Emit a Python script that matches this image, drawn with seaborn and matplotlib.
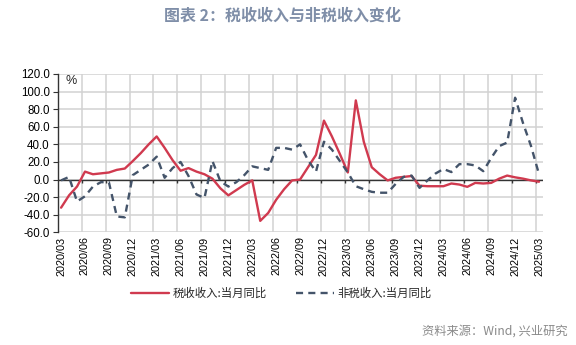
import numpy as np
import pandas as pd
import matplotlib
matplotlib.use("Agg")
import matplotlib.pyplot as plt
import seaborn as sns

# ---------------- data ----------------
months = [p.strftime("%Y/%m") for p in pd.period_range("2020-03", "2025-03", freq="M")]

tax_yoy = [-32, -18, -8, 9, 6, 7, 8, 11, 12.5, 21, 30, 40,
           49, 36, 22, 10, 13, 9, 6, 1, -10, -18, -12, -6,
           -1, -47, -38, -23, -11, -1, 0, 14, 28, 67, 49, 29,
           8, 90, 43, 14, 6, -1, 2, 3, 4, -7, -7.6, -7.6,
           -7.6, -4.5, -5.7, -8.3, -3.8, -4.5, -3.8, 1, 4.5, 2.5,
           1, -1, -2.5]

nontax_yoy = [-1, 3, -25, -19, -8, -3, -3, -42, -43, 5, 11, 17,
              26, 2, 13, 20, 4, -17, -21, 21, -2, -8, -3, 5,
              15, 13, 11, 36, 36, 34, 40, 22, 9, 43, 34, 21,
              8, -7.6, -11, -14, -15, -15, -5, 3, 4.5, -9.5, -1, 6.8,
              12, 8.5, 17.5, 17.5, 16, 9.5, 24.6, 38, 42, 93, 64,
              38, 6]

series_names = ["税收收入:当月同比", "非税收入:当月同比"]
title_text = "图表 2：税收收入与非税收入变化"
source_text = "资料来源：Wind, 兴业研究"
yticks = [-60, -40, -20, 0, 20, 40, 60, 80, 100, 120]

# ---------------- style ----------------
sns.set_theme(style="white")
plt.rcParams["font.family"] = ["Liberation Sans", "Noto Sans CJK SC", "DejaVu Sans"]

RED = "#d03a4f"
BLUE = "#44546a"

df = pd.DataFrame({
    "pos": np.tile(np.arange(len(months)), 2),
    "value": tax_yoy + nontax_yoy,
    "series": [series_names[0]] * len(months) + [series_names[1]] * len(months),
})

W, H = 576, 345
fig = plt.figure(figsize=(W / 100, H / 100), dpi=100)
L, R, T, B = 57.5, 543.0, 74.0, 232.3
ax = fig.add_axes([L / W, 1 - B / H, (R - L) / W, (B - T) / H])

sns.lineplot(data=df, x="pos", y="value", hue="series", style="series",
             palette={series_names[0]: RED, series_names[1]: BLUE},
             dashes={series_names[0]: "", series_names[1]: (3.0, 2.2)},
             linewidth=1.7, ax=ax, legend=True)

ax.set_xlim(-0.45, len(months) - 0.5)
ax.set_ylim(-60, 120)

# grid
grid_x = np.arange(0, len(months), 3) - 0.4
for gx in grid_x:
    ax.axvline(gx, color="#d2d2d2", lw=1.1, zorder=0)
for gy in yticks:
    ax.axhline(gy, color="#d2d2d2", lw=1.1, zorder=0)
ax.axhline(0, color="#333333", lw=1.0, zorder=1)
# small tick marks under the zero line
ax.vlines(grid_x[1:], -3.5, 0, color="#333333", lw=1.0, zorder=1)

ax.set_yticks(yticks)
ax.set_yticklabels([f"{v:.1f}" for v in yticks], fontsize=8.3, color="#000000")
ax.set_xticks(np.arange(0, len(months), 3))
ax.set_xticklabels(months[::3], rotation=90, fontsize=7.8, color="#000000")
ax.tick_params(axis="y", length=3.5, width=0.8, color="#333333", pad=2, direction="out", left=True)
ax.tick_params(axis="x", length=0, pad=3)
ax.set_xlabel("")
ax.set_ylabel("")
for s in ["top", "right", "bottom"]:
    ax.spines[s].set_visible(False)
ax.spines["left"].set_color("#333333")
ax.spines["left"].set_linewidth(1.0)

ax.text(0.029, 0.955, "%", transform=ax.transAxes, fontsize=9, ha="center", va="center")

# legend
handles, labels = ax.get_legend_handles_labels()
ax.get_legend().remove()
fig.legend(handles, labels, loc="center left", bbox_to_anchor=(121 / W, 1 - 293 / H),
           ncol=2, frameon=False, fontsize=8.2, handlelength=3.3, handletextpad=0.3,
           columnspacing=2.6, prop={"family": ["Noto Sans CJK SC"], "size": 8.2})

fig.text(282 / W, 1 - 16 / H, title_text, ha="center", va="center", fontsize=11.5,
         fontweight="bold", color="#7f8ea8", family=["Noto Sans CJK SC", "DejaVu Sans"])
fig.text(568 / W, 1 - 331.5 / H, source_text, ha="right", va="center", fontsize=8.8,
         color="#8a8a8a", family=["Noto Sans CJK SC", "DejaVu Sans"])

fig.savefig("out.png", dpi=100)
